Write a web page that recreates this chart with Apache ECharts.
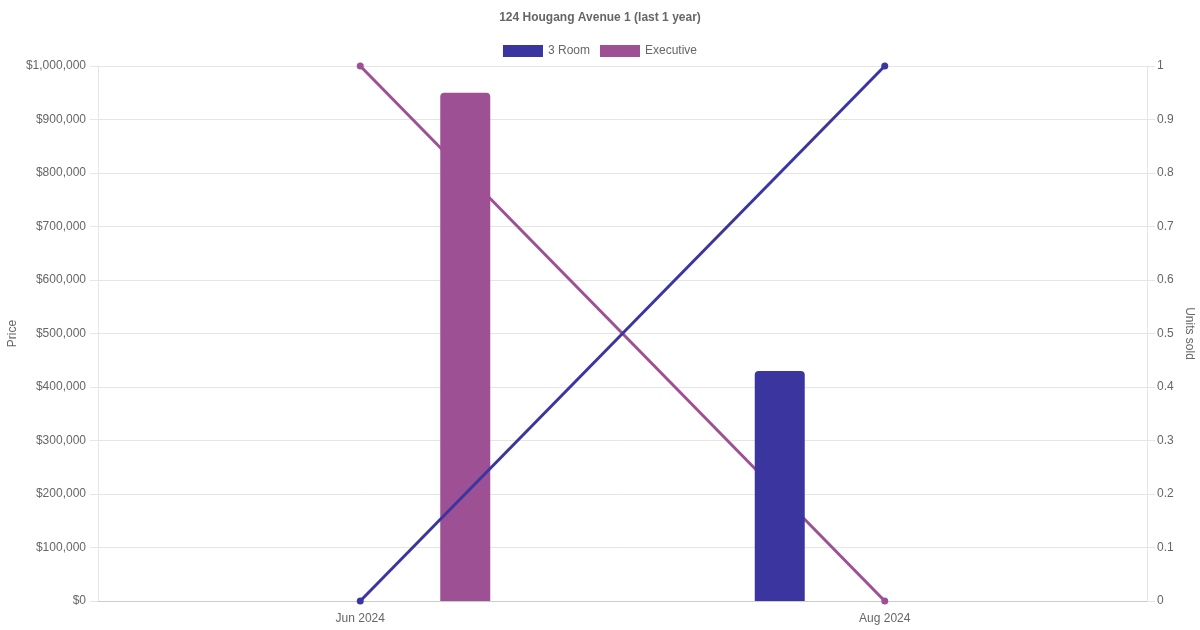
<!DOCTYPE html>
<html>
<head>
<meta charset="utf-8">
<script src="https://cdn.jsdelivr.net/npm/echarts@6/dist/echarts.min.js"></script>
<style>html,body{margin:0;padding:0;background:#fff}#c{width:1200px;height:630px}</style>
</head>
<body>
<div id="c"></div>
<script>
var categories = ['Jun 2024', 'Aug 2024'];
var priceRoom3 = [null, 430000];
var priceExec = [950000, null];
var unitsRoom3 = [0, 1];
var unitsExec = [1, 0];
var seriesNames = ['3 Room', 'Executive'];
var colors = ['#3b35a0', '#9e5094'];

var font = 'Liberation Sans, Arial, Helvetica, sans-serif';
var chart = echarts.init(document.getElementById('c'));
chart.setOption({
  animation: false,
  textStyle: { fontFamily: font },
  title: {
    text: '124 Hougang Avenue 1 (last 1 year)',
    left: 'center', top: 7,
    textStyle: { fontSize: 12, fontWeight: 'bold', color: '#666', fontFamily: font }
  },
  legend: {
    data: seriesNames.map(function (n) { return { name: n, icon: 'rect' }; }),
    top: 40, left: 'center',
    itemWidth: 40, itemHeight: 12, itemGap: 10,
    textStyle: { fontSize: 12, color: '#666', fontFamily: font }
  },
  grid: { left: 98, right: 53, top: 66, bottom: 29, containLabel: false, outerBoundsMode: 'none' },
  xAxis: {
    type: 'category', data: categories,
    axisLine: { lineStyle: { color: '#ccc' } },
    axisTick: { show: false },
    axisLabel: { color: '#666', fontSize: 12, margin: 12, fontFamily: font },
    splitLine: { show: false }
  },
  yAxis: [{
    type: 'value', min: 0, max: 1000000, interval: 100000,
    name: 'Price', nameLocation: 'middle', nameGap: 79, nameRotate: 90, nameMoveOverlap: false,
    nameTextStyle: { color: '#666', fontSize: 12, fontFamily: font },
    axisLine: { show: true, lineStyle: { color: '#e5e5e5' } },
    axisTick: { show: true, length: 8, lineStyle: { color: '#e5e5e5' } },
    axisLabel: { color: '#666', fontSize: 12, margin: 12, fontFamily: font,
      formatter: function (v) { return '$' + v.toLocaleString('en-US'); } },
    splitLine: { lineStyle: { color: '#e5e5e5' } }
  }, {
    type: 'value', min: 0, max: 1, interval: 0.1, position: 'right',
    name: 'Units sold', nameLocation: 'middle', nameGap: 36, nameRotate: -90, nameMoveOverlap: false,
    nameTextStyle: { color: '#666', fontSize: 12, fontFamily: font },
    axisLine: { show: true, lineStyle: { color: '#e5e5e5' } },
    axisTick: { show: true, length: 8, lineStyle: { color: '#e5e5e5' } },
    axisLabel: { color: '#666', fontSize: 12, margin: 10, fontFamily: font,
      formatter: function (v) { return String(Math.round(v * 10) / 10); } },
    splitLine: { show: false }
  }],
  series: [{
    name: seriesNames[0], type: 'bar', data: priceRoom3, yAxisIndex: 0,
    barWidth: 50, barGap: '320%',
    itemStyle: { color: colors[0], borderRadius: [4, 4, 0, 0] }, z: 2
  }, {
    name: seriesNames[1], type: 'bar', data: priceExec, yAxisIndex: 0,
    barWidth: 50, barGap: '320%',
    itemStyle: { color: colors[1], borderRadius: [4, 4, 0, 0] }, z: 2
  }, {
    name: seriesNames[0], type: 'line', data: unitsRoom3, yAxisIndex: 1,
    symbol: 'circle', symbolSize: 7, lineStyle: { width: 3, color: colors[0] },
    itemStyle: { color: colors[0] }, z: 4
  }, {
    name: seriesNames[1], type: 'line', data: unitsExec, yAxisIndex: 1,
    symbol: 'circle', symbolSize: 7, lineStyle: { width: 3, color: colors[1] },
    itemStyle: { color: colors[1] }, z: 1
  }]
});
</script>
</body>
</html>
